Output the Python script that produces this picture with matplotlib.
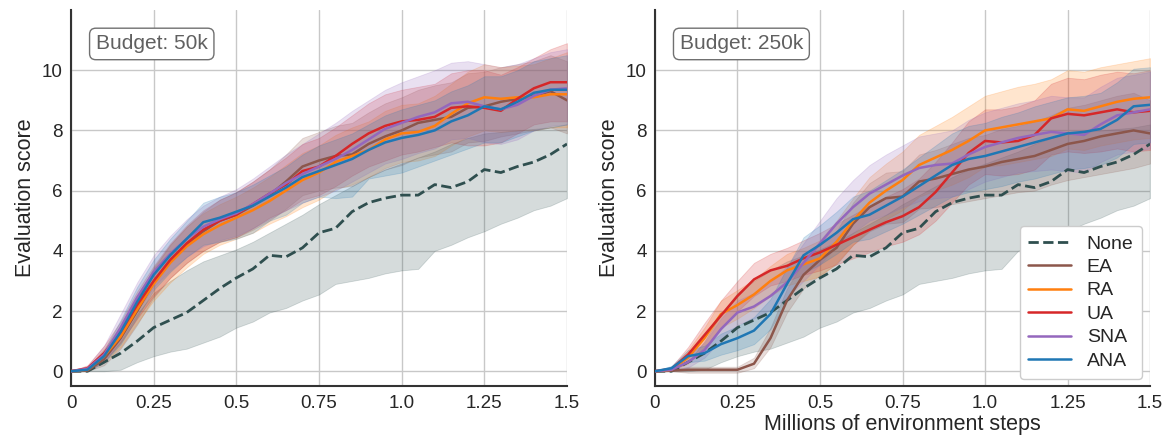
import matplotlib

matplotlib.use("Agg")
import matplotlib.pyplot as plt
import numpy as np
import seaborn as sns

# Evaluation checkpoints (millions of environment steps)
steps = np.arange(31) * 0.05

# Baseline without augmentation, shared by both budgets
none_mean = [0, 0.0, 0.3, 0.6, 1.0, 1.45, 1.7, 1.95, 2.35, 2.75, 3.1, 3.4, 3.85, 3.8, 4.1, 4.6,
             4.75, 5.3, 5.6, 5.75, 5.85, 5.85, 6.2, 6.1, 6.3, 6.7, 6.6, 6.8, 6.95, 7.2, 7.55]
none_lo = [0, 0, 0, 0.05, 0.3, 0.5, 0.65, 0.75, 0.95, 1.15, 1.45, 1.65, 1.95, 2.1, 2.35, 2.55,
           2.9, 3.0, 3.1, 3.25, 3.35, 3.4, 4.0, 4.2, 4.45, 4.65, 4.9, 5.1, 5.35, 5.5, 5.75]
none_hi = [0, 0.05, 0.3, 1.0, 1.9, 2.6, 3.0, 3.35, 3.65, 3.85, 4.05, 4.3, 4.6, 4.9, 5.2, 5.55,
           5.85, 6.15, 6.45, 6.7, 6.9, 7.1, 7.3, 7.55, 7.75, 7.9, 7.95, 8.0, 8.05, 8.1, 8.2]

# Budget 50k
ea_50_mean = [0, 0.02, 0.4, 1.1, 2.0, 2.95, 3.65, 4.2, 4.65, 5.0, 5.2, 5.5, 5.85, 6.3, 6.8, 7.0,
              7.15, 7.2, 7.55, 7.8, 8.0, 8.25, 8.35, 8.45, 8.75, 8.8, 8.95, 9.05, 9.15, 9.3, 9.0]
ea_50_lo = [0, 0, 0.2, 0.75, 1.55, 2.45, 3.1, 3.6, 4.0, 4.3, 4.45, 4.7, 5.0, 5.4, 5.85, 6.0,
            6.1, 6.15, 6.45, 6.7, 6.85, 7.1, 7.2, 7.3, 7.6, 7.65, 7.8, 7.9, 8.0, 8.1, 7.9]
ea_50_hi = [0, 0.08, 0.65, 1.45, 2.45, 3.45, 4.2, 4.8, 5.3, 5.7, 5.95, 6.3, 6.7, 7.2, 7.75, 7.95,
            8.15, 8.25, 8.6, 8.9, 9.1, 9.35, 9.5, 9.6, 9.9, 9.95, 10.1, 10.2, 10.3, 10.5, 10.3]

ra_50_mean = [0, 0.05, 0.5, 1.15, 2.05, 2.9, 3.6, 4.15, 4.55, 4.85, 5.1, 5.35, 5.65, 6.0, 6.35, 6.6,
              6.95, 7.15, 7.35, 7.7, 7.9, 7.95, 8.15, 8.55, 8.9, 9.1, 9.05, 9.1, 9.1, 9.2, 9.2]
ra_50_lo = [0, 0, 0.3, 0.8, 1.6, 2.35, 2.95, 3.45, 3.9, 4.2, 4.4, 4.6, 4.9, 5.15, 5.45, 5.7,
            6.05, 6.2, 6.45, 6.75, 6.95, 7.0, 7.15, 7.5, 7.8, 8.0, 7.95, 8.0, 8.0, 8.1, 8.1]
ra_50_hi = [0, 0.12, 0.75, 1.5, 2.5, 3.4, 4.2, 4.8, 5.25, 5.55, 5.8, 6.1, 6.45, 6.85, 7.25, 7.5,
            7.85, 8.1, 8.3, 8.65, 8.85, 8.9, 9.15, 9.55, 9.95, 10.2, 10.1, 10.15, 10.2, 10.4, 10.6]

ua_50_mean = [0, 0.1, 0.6, 1.3, 2.2, 3.0, 3.7, 4.25, 4.7, 5.0, 5.2, 5.55, 5.9, 6.2, 6.65, 6.8,
              7.15, 7.55, 7.9, 8.15, 8.3, 8.35, 8.45, 8.75, 8.8, 8.75, 8.65, 9.05, 9.4, 9.6, 9.6]
ua_50_lo = [0, 0.02, 0.35, 0.95, 1.75, 2.5, 3.1, 3.6, 4.0, 4.3, 4.45, 4.75, 5.1, 5.35, 5.7, 5.85,
            6.15, 6.5, 6.8, 7.0, 7.2, 7.3, 7.45, 7.6, 7.5, 7.5, 7.6, 7.9, 8.2, 8.3, 8.3]
ua_50_hi = [0, 0.2, 0.85, 1.65, 2.65, 3.5, 4.25, 4.85, 5.35, 5.7, 5.95, 6.3, 6.7, 7.1, 7.55, 7.75,
            8.1, 8.5, 8.9, 9.2, 9.35, 9.45, 9.55, 9.9, 10.0, 10.0, 9.85, 10.1, 10.4, 10.7, 10.9]

sna_50_mean = [0, 0.08, 0.55, 1.45, 2.45, 3.3, 3.9, 4.4, 4.8, 5.05, 5.25, 5.55, 5.9, 6.25, 6.55, 6.8,
               7.05, 7.35, 7.7, 8.05, 8.25, 8.45, 8.6, 8.9, 8.95, 8.8, 8.7, 8.85, 9.15, 9.35, 9.4]
sna_50_lo = [0, 0.02, 0.3, 1.05, 2.0, 2.8, 3.35, 3.8, 4.15, 4.35, 4.5, 4.75, 5.05, 5.35, 5.6, 5.8,
             6.0, 6.3, 6.6, 6.9, 7.05, 7.25, 7.4, 7.7, 7.75, 7.6, 7.55, 7.7, 8.0, 8.15, 8.2]
sna_50_hi = [0, 0.18, 0.85, 1.9, 2.95, 3.85, 4.5, 5.05, 5.5, 5.8, 6.05, 6.4, 6.8, 7.2, 7.55, 7.9,
             8.25, 8.65, 9.0, 9.35, 9.6, 9.8, 10.0, 10.25, 10.3, 10.2, 10.1, 10.2, 10.4, 10.6, 10.7]

ana_50_mean = [0, 0.05, 0.5, 1.3, 2.3, 3.2, 3.85, 4.4, 4.95, 5.1, 5.3, 5.5, 5.8, 6.1, 6.45, 6.65,
               6.85, 7.05, 7.35, 7.6, 7.75, 7.85, 8.0, 8.3, 8.5, 8.8, 8.7, 8.95, 9.25, 9.35, 9.35]
ana_50_lo = [0, 0, 0.3, 0.9, 1.8, 2.7, 3.3, 3.8, 4.2, 4.3, 4.4, 4.6, 5.0, 5.2, 5.6, 5.8,
             5.75, 5.8, 6.4, 6.5, 6.6, 6.8, 7.0, 7.2, 7.4, 7.6, 7.6, 7.8, 8.0, 8.1, 8.2]
ana_50_hi = [0, 0.1, 0.7, 1.7, 2.8, 3.7, 4.4, 5.0, 5.6, 5.8, 5.95, 6.2, 6.5, 6.8, 7.2, 7.5,
             7.7, 7.9, 8.2, 8.5, 8.7, 8.85, 9.0, 9.3, 9.5, 9.8, 9.8, 10.0, 10.3, 10.4, 10.5]

# Budget 250k
ea_250_mean = [0, 0.02, 0.05, 0.05, 0.05, 0.05, 0.25, 1.1, 2.35, 3.2, 3.7, 4.1, 4.9, 5.45, 5.75, 5.8,
               6.3, 6.4, 6.55, 6.7, 6.8, 6.95, 7.05, 7.15, 7.35, 7.55, 7.65, 7.8, 7.9, 8.0, 7.9]
ea_250_lo = [0, 0, -0.05, -0.05, -0.05, -0.05, 0.1, 0.8, 1.95, 2.75, 3.2, 3.55, 4.2, 4.65, 4.9, 4.95,
             5.4, 5.45, 5.55, 5.65, 5.75, 5.85, 5.95, 6.0, 6.2, 6.35, 6.45, 6.55, 6.65, 6.75, 6.9]
ea_250_hi = [0, 0.05, 0.15, 0.15, 0.15, 0.15, 0.45, 1.45, 2.75, 3.65, 4.2, 4.65, 5.6, 6.25, 6.6, 6.65,
             7.2, 7.35, 7.55, 7.75, 7.85, 8.05, 8.15, 8.3, 8.5, 8.75, 8.85, 9.0, 9.15, 9.25, 9.0]

ra_250_mean = [0, 0.05, 0.45, 1.1, 1.9, 2.2, 2.55, 3.0, 3.35, 3.55, 3.75, 4.3, 5.0, 5.6, 6.0, 6.35,
               6.85, 7.1, 7.35, 7.65, 8.0, 8.1, 8.2, 8.3, 8.4, 8.7, 8.65, 8.8, 8.95, 9.05, 9.1]
ra_250_lo = [0, 0, 0.25, 0.75, 1.45, 1.75, 2.1, 2.5, 2.85, 3.0, 3.15, 3.6, 4.2, 4.7, 5.05, 5.35,
             5.8, 6.0, 6.2, 6.45, 6.8, 6.85, 6.95, 7.05, 7.15, 7.4, 7.35, 7.5, 7.6, 7.7, 7.75]
ra_250_hi = [0, 0.1, 0.7, 1.45, 2.35, 2.7, 3.05, 3.5, 3.9, 4.1, 4.35, 5.0, 5.75, 6.45, 6.9, 7.3,
             7.85, 8.15, 8.45, 8.8, 9.15, 9.3, 9.45, 9.55, 9.7, 10.0, 9.95, 10.1, 10.2, 10.3, 10.4]

ua_250_mean = [0, 0.08, 0.55, 1.2, 1.85, 2.5, 3.05, 3.35, 3.5, 3.75, 3.95, 4.2, 4.45, 4.7, 4.95, 5.15,
               5.45, 5.95, 6.6, 7.25, 7.65, 7.6, 7.65, 7.85, 8.4, 8.55, 8.5, 8.6, 8.7, 8.6, 8.65]
ua_250_lo = [0, 0.02, 0.3, 0.8, 1.4, 2.0, 2.5, 2.85, 3.0, 3.2, 3.35, 3.55, 3.75, 3.95, 4.15, 4.3,
             4.55, 5.0, 5.6, 6.2, 6.55, 6.5, 6.55, 6.7, 7.2, 7.3, 7.25, 7.3, 7.4, 7.3, 7.35]
ua_250_hi = [0, 0.15, 0.8, 1.6, 2.35, 3.0, 3.6, 3.9, 4.1, 4.35, 4.6, 4.9, 5.2, 5.5, 5.8, 6.05,
             6.4, 6.95, 7.6, 8.3, 8.7, 8.7, 8.8, 9.0, 9.55, 9.75, 9.7, 9.85, 9.95, 9.9, 10.0]

sna_250_mean = [0, 0.05, 0.3, 0.7, 1.4, 1.95, 2.15, 2.5, 2.95, 3.6, 4.25, 4.9, 5.45, 5.9, 6.2, 6.5,
                6.75, 6.85, 6.9, 7.2, 7.45, 7.6, 7.75, 7.85, 7.95, 7.9, 7.85, 8.2, 8.5, 8.6, 8.7]
sna_250_lo = [0, 0, 0.12, 0.45, 1.05, 1.55, 1.75, 2.05, 2.45, 3.0, 3.55, 4.15, 4.6, 5.0, 5.2, 5.45,
              5.65, 5.75, 5.8, 6.05, 6.3, 6.45, 6.6, 6.65, 6.7, 6.65, 6.6, 6.95, 7.2, 7.3, 7.4]
sna_250_hi = [0, 0.1, 0.5, 0.95, 1.75, 2.35, 2.6, 2.95, 3.5, 4.25, 5.0, 5.75, 6.35, 6.85, 7.2, 7.5,
              7.8, 7.9, 8.0, 8.35, 8.6, 8.75, 8.9, 9.0, 9.15, 9.1, 9.1, 9.45, 9.75, 9.85, 9.95]

ana_250_mean = [0, 0.1, 0.5, 0.6, 0.9, 1.1, 1.35, 1.9, 2.9, 3.85, 4.2, 4.6, 5.05, 5.2, 5.5, 5.8,
                6.15, 6.5, 6.85, 7.05, 7.15, 7.3, 7.45, 7.6, 7.75, 7.9, 7.95, 8.05, 8.35, 8.8, 8.85]
ana_250_lo = [0, 0.02, 0.3, 0.35, 0.55, 0.7, 0.9, 1.4, 2.35, 3.25, 3.55, 3.9, 4.3, 4.4, 4.65, 4.9,
              5.2, 5.5, 5.8, 5.95, 6.05, 6.15, 6.3, 6.4, 6.55, 6.7, 6.75, 6.85, 7.1, 7.55, 7.6]
ana_250_hi = [0, 0.18, 0.7, 0.85, 1.25, 1.5, 1.8, 2.4, 3.45, 4.45, 4.85, 5.3, 5.8, 6.0, 6.35, 6.7,
              7.1, 7.5, 7.9, 8.15, 8.25, 8.45, 8.6, 8.8, 8.95, 9.1, 9.15, 9.25, 9.6, 10.05, 10.1]

labels = ["None", "EA", "RA", "UA", "SNA", "ANA"]
colors = ["#2f4f4f", "#8c564b", "#ff7f0e", "#d62728", "#9467bd", "#1f77b4"]
budgets = ["Budget: 50k", "Budget: 250k"]
xticks = [0, 0.25, 0.5, 0.75, 1.0, 1.25, 1.5]
xticklabels = ["0", "0.25", "0.5", "0.75", "1.0", "1.25", "1.5"]

panels = [
    [
        (none_mean, none_lo, none_hi),
        (ea_50_mean, ea_50_lo, ea_50_hi),
        (ra_50_mean, ra_50_lo, ra_50_hi),
        (ua_50_mean, ua_50_lo, ua_50_hi),
        (sna_50_mean, sna_50_lo, sna_50_hi),
        (ana_50_mean, ana_50_lo, ana_50_hi),
    ],
    [
        (none_mean, none_lo, none_hi),
        (ea_250_mean, ea_250_lo, ea_250_hi),
        (ra_250_mean, ra_250_lo, ra_250_hi),
        (ua_250_mean, ua_250_lo, ua_250_hi),
        (sna_250_mean, sna_250_lo, sna_250_hi),
        (ana_250_mean, ana_250_lo, ana_250_hi),
    ],
]

sns.set_style("whitegrid")
plt.rcParams["font.family"] = ["Liberation Sans", "DejaVu Sans"]

fig = plt.figure(figsize=(11.7, 4.44), dpi=100)
axes = [
    fig.add_axes([0.0607, 0.13, 0.4239, 0.8475]),
    fig.add_axes([0.5598, 0.13, 0.4232, 0.8475]),
]

for ax, runs, budget in zip(axes, panels, budgets):
    for (mean, lo, hi), label, color in zip(runs, labels, colors):
        ax.fill_between(steps, lo, hi, color=color, alpha=0.2, lw=0.6)
        if label == "None":
            ax.plot(steps, mean, color=color, lw=2, ls="--", label=label, zorder=3)
        else:
            ax.plot(steps, mean, color=color, lw=1.8, label=label, zorder=3)

    ax.set_xlim(0, 1.5)
    ax.set_ylim(-0.5, 12)
    ax.set_xticks(xticks)
    ax.set_xticklabels(xticklabels)
    ax.set_yticks([0, 2, 4, 6, 8, 10])
    ax.tick_params(labelsize=13.5, length=0, pad=6)
    ax.set_ylabel("Evaluation score", fontsize=15.5)
    ax.grid(color="#c8c8c8", lw=1)
    for side in ["top", "right"]:
        ax.spines[side].set_visible(False)
    for side in ["left", "bottom"]:
        ax.spines[side].set_color("#333333")
        ax.spines[side].set_linewidth(1.5)
    # Budget tag in the upper left corner
    ax.text(
        0.05, 0.935, budget,
        transform=ax.transAxes,
        fontsize=15,
        color="#606060",
        va="top",
        ha="left",
        bbox=dict(boxstyle="round,pad=0.3", fc="white", ec="#707070", lw=1),
    )

axes[1].set_xlabel("Millions of environment steps", fontsize=15.5, labelpad=2)
axes[1].legend(loc="lower right", fontsize=14, handlelength=2.2, labelspacing=0.3,
               borderaxespad=0.4, borderpad=0.45, framealpha=1)

fig.savefig("out.png", dpi=100)
